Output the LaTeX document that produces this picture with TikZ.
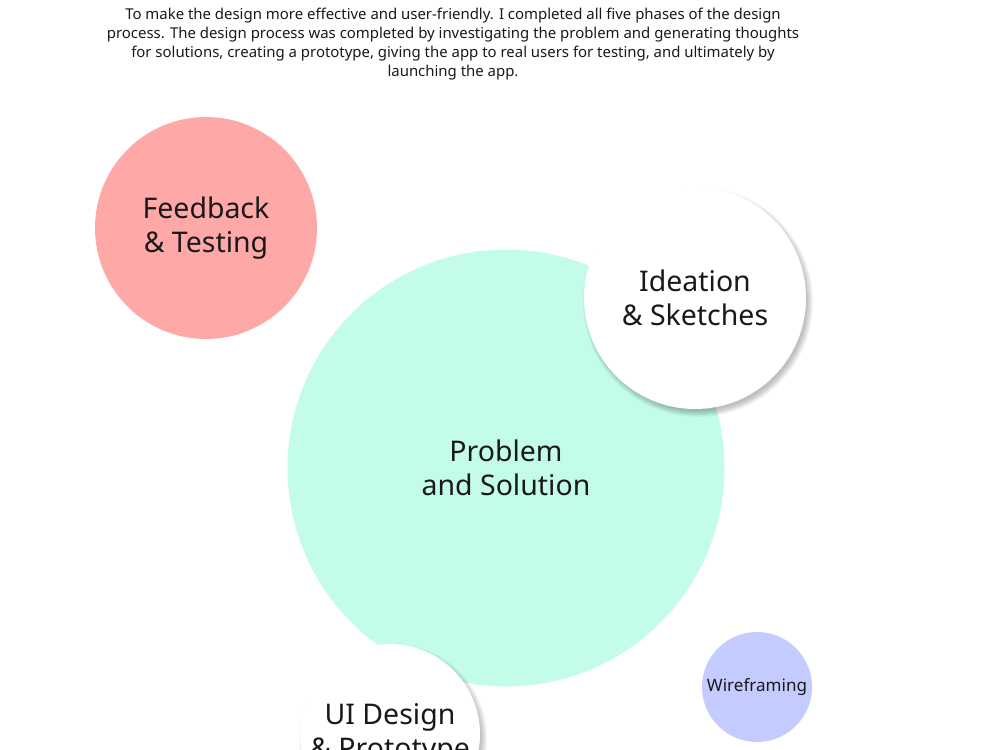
\documentclass[tikz,border=0pt]{standalone}
\usepackage{fontspec}
\setmainfont{Noto Sans}
\usetikzlibrary{positioning}

\definecolor{pinkfill}{HTML}{FFA8A8}
\definecolor{mintfill}{HTML}{C4FCEB}
\definecolor{lavfill}{HTML}{C4CBFF}

\begin{document}
\begin{tikzpicture}[
    x = 0.02cm, y = -0.02cm,                % 1 unit = 1 px of the layout
    every node/.style = {text=black!90},
    phase/.style   = {circle, inner sep=0pt, align=center,
                      font=\fontsize{16.2}{19.3}\selectfont},
    whitephase/.style = {phase, fill=white},
    intro/.style   = {align=center,
                      font=\fontsize{8.5}{10.9}\selectfont}
  ]
  \useasboundingbox (0,0) rectangle (1000,750);

  % intro text
  \node[intro] (intro) at (453,44)
    {To make the design more effective and user-friendly. I completed all five phases of the design\\
     process. The design process was completed by investigating the problem and generating thoughts\\
     for solutions, creating a prototype, giving the app to real users for testing, and ultimately by\\
     launching the app.};

  % phases
  \node[phase, fill=pinkfill, minimum size=222*0.02cm] (feedback) at (206,228)
    {Feedback\\\& Testing};
  \node[phase, fill=mintfill, minimum size=437*0.02cm] (problem) at (506,468)
    {Problem\\and Solution};
  \node[phase, fill=lavfill, minimum size=110*0.02cm,
        font=\fontsize{9.7}{11}\selectfont] (wire) at (757,687) {Wireframing};

  % soft shadows under the white circles
  \foreach \cx/\cy/\r in {695/298/111, 390/734/90}
    \foreach \k in {1,...,7}
      \fill[black, opacity=0.04] (\cx+3,\cy+4) circle[radius=\r-3+\k];

  \node[whitephase, minimum size=222*0.02cm] (ideation) at (695,298)
    {Ideation\\\& Sketches};
  \node[whitephase, minimum size=180*0.02cm] (uidesign) at (390,734)
    {UI Design\\\& Prototype};
\end{tikzpicture}
\end{document}
